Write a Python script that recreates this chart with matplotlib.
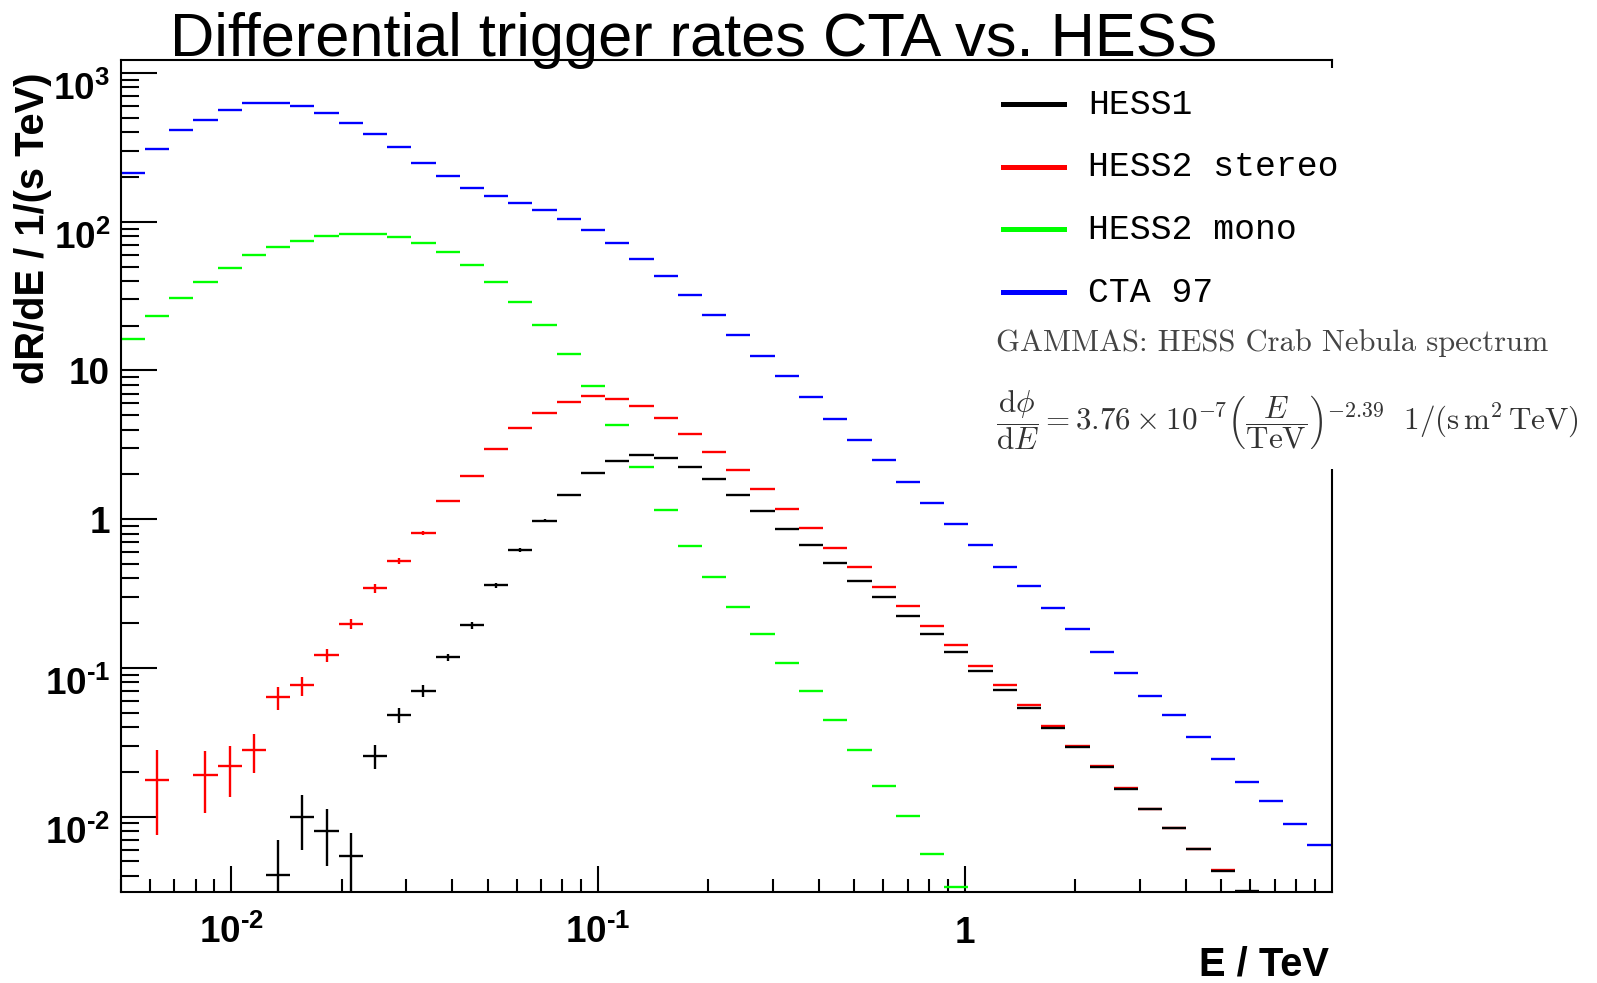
import numpy as np
import matplotlib
matplotlib.use("Agg")
import matplotlib.pyplot as plt
from matplotlib.lines import Line2D
from matplotlib.patches import Rectangle
from matplotlib.ticker import LogLocator, NullFormatter
from matplotlib.transforms import blended_transform_factory, ScaledTranslation

nan = np.nan

# ---------------- data ----------------
E_MIN, E_MAX, N_BINS = 0.005, 10.0, 50

series_labels = ["HESS1", "HESS2 stereo", "HESS2 mono", "CTA 97"]
series_colors = ["#000000", "#ff0000", "#00ff00", "#0000ff"]

hess1 = [nan, nan, nan, nan, nan, nan, 0.00406, 0.00993, 0.00795, 0.00542,
         0.0255, 0.0482, 0.0702, 0.1177, 0.193, 0.359, 0.620, 0.979, 1.462, 2.03,
         2.48, 2.70, 2.59, 2.25, 1.852, 1.465, 1.128, 0.861, 0.673, 0.509,
         0.385, 0.298, 0.222, 0.170, 0.1277, 0.0957, 0.0713, 0.0537, 0.0395, 0.0292,
         0.0215, 0.0154, 0.01128, 0.00837, 0.00603, 0.00430, 0.00318, nan, nan, nan]
hess1_err = [0, 0, 0, 0, 0, 0, 0.0029, 0.0040, 0.0033, 0.0024,
             0.0046, 0.0056, 0.0060, 0.0070, 0.011, 0.015, 0.019, 0.02, 0, 0,
             0, 0, 0, 0, 0, 0, 0, 0, 0, 0,
             0, 0, 0, 0, 0, 0, 0, 0, 0, 0,
             0, 0, 0, 0, 0, 0, 0, 0, 0, 0]

hess2_stereo = [nan, 0.0177, nan, 0.0192, 0.0218, 0.0279, 0.0634, 0.0762, 0.1213, 0.198,
                0.343, 0.525, 0.810, 1.318, 1.95, 2.95, 4.10, 5.15, 6.18, 6.71,
                6.45, 5.76, 4.76, 3.73, 2.83, 2.13, 1.585, 1.164, 0.875, 0.637,
                0.474, 0.351, 0.259, 0.192, 0.1417, 0.1036, 0.0769, 0.0560, 0.0408, 0.0299,
                0.0219, 0.0157, 0.01128, 0.00837, 0.00603, 0.00437, nan, nan, nan, nan]
hess2_stereo_err = [0, 0.0102, 0, 0.0086, 0.0082, 0.0082, 0.011, 0.011, 0.012, 0.015,
                    0.022, 0.025, 0.025, 0, 0, 0, 0, 0, 0, 0,
                    0, 0, 0, 0, 0, 0, 0, 0, 0, 0,
                    0, 0, 0, 0, 0, 0, 0, 0, 0, 0,
                    0, 0, 0, 0, 0, 0, 0, 0, 0, 0]

hess2_mono = [16.3, 23.1, 30.8, 39.5, 48.6, 60.0, 67.6, 74.2, 79.8, 82.3,
              82.3, 78.6, 72.2, 62.6, 50.9, 39.1, 29.0, 20.1, 13.0, 7.89,
              4.29, 2.26, 1.16, 0.659, 0.406, 0.258, 0.170, 0.108, 0.0695, 0.0446,
              0.0281, 0.0161, 0.0101, 0.00557, 0.00337, nan, nan, nan, nan, nan,
              nan, nan, nan, nan, nan, nan, nan, nan, nan, nan]
hess2_mono_err = [0.0] * 50

cta97 = [214, 307, 412, 481, 563, 625, 631, 603, 541, 463,
         389, 316, 250, 202, 169, 148, 133, 120, 105, 88,
         72.3, 56.1, 42.9, 32.0, 23.5, 17.2, 12.5, 9.13, 6.62, 4.71,
         3.39, 2.51, 1.77, 1.28, 0.922, 0.673, 0.478, 0.355, 0.254, 0.182,
         0.128, 0.0922, 0.0643, 0.0486, 0.0342, 0.0246, 0.0171, 0.0127, 0.0089, 0.00643]
cta97_err = [0.0] * 50

x_ticks = [0.01, 0.1, 1.0]
x_tick_labels = [r"10$^{\text{-}2}$", r"10$^{\text{-}1}$", "1"]
y_ticks = [0.01, 0.1, 1.0, 10.0, 100.0, 1000.0]
y_tick_labels = [r"10$^{\text{-}2}$", r"10$^{\text{-}1}$", "1", "10", r"10$^{2}$", r"10$^{3}$"]

title = "Differential trigger rates CTA vs. HESS"
xlabel = "E / TeV"
ylabel = "dR/dE / 1/(s TeV)"
note = "GAMMAS: HESS Crab Nebula spectrum"
formula = (r"$\dfrac{\mathrm{d}\phi}{\mathrm{d}\mathit{E}} = 3.76 \times 10^{-7}"
           r"\left(\dfrac{\mathit{E}}{\mathrm{TeV}}\right)^{-2.39}\ \ 1/(\mathrm{s\,m^2\,TeV})$")

# ---------------- style ----------------
plt.rcParams["font.family"] = ["Liberation Sans", "DejaVu Sans"]
plt.rcParams["mathtext.fontset"] = "custom"
plt.rcParams["mathtext.rm"] = "Liberation Sans:bold"
plt.rcParams["mathtext.bf"] = "Liberation Sans:bold"
plt.rcParams["mathtext.it"] = "Liberation Sans:bold:italic"
plt.rcParams["mathtext.default"] = "rm"

W, H = 1597, 983
PX = 1 / 100.0  # one pixel in inches
fig = plt.figure(figsize=(W / 100, H / 100), dpi=100)
ax = fig.add_axes([120.7 / W, 1 - 892.3 / H, (1331.7 - 120.7) / W, (892.3 - 60) / H])

edges = np.logspace(np.log10(E_MIN), np.log10(E_MAX), N_BINS + 1)
centers = np.sqrt(edges[:-1] * edges[1:])
xerr = [centers - edges[:-1], edges[1:] - centers]

draw_order = [
    (hess2_stereo, hess2_stereo_err, series_colors[1]),
    (hess1, hess1_err, series_colors[0]),
    (hess2_mono, hess2_mono_err, series_colors[2]),
    (cta97, cta97_err, series_colors[3]),
]
for vals, errs, col in draw_order:
    y = np.array(vals, dtype=float)
    e = np.array(errs, dtype=float)
    ax.errorbar(centers, y, xerr=xerr, yerr=e, fmt="none", ecolor=col,
                elinewidth=1.7, capsize=0)

ax.set_xscale("log")
ax.set_yscale("log")
ax.set_xlim(E_MIN, E_MAX)
ax.set_ylim(0.0031, 1223)

ax.set_xticks(x_ticks, [""] * len(x_ticks))
ax.set_yticks(y_ticks, [""] * len(y_ticks))
ax.xaxis.set_minor_locator(LogLocator(base=10, subs=np.arange(2, 10), numticks=30))
ax.yaxis.set_minor_locator(LogLocator(base=10, subs=np.arange(2, 10), numticks=30))
ax.xaxis.set_minor_formatter(NullFormatter())
ax.yaxis.set_minor_formatter(NullFormatter())

ax.tick_params(which="both", direction="in", top=False, right=False, width=1.5)
ax.tick_params(axis="y", which="major", length=26)
ax.tick_params(axis="y", which="minor", length=12.7)
ax.tick_params(axis="x", which="major", length=18.5)
ax.tick_params(axis="x", which="minor", length=9.4)
for sp in ax.spines.values():
    sp.set_linewidth(1.5)

# tick labels placed ROOT-style
TICK_FS = 26.5
xt = blended_transform_factory(ax.transData, ax.transAxes)
for xv, lab in zip(x_ticks, x_tick_labels):
    ax.text(xv, 0, lab, transform=xt + ScaledTranslation(0, -50.7 * PX, fig.dpi_scale_trans),
            ha="center", va="baseline", fontsize=TICK_FS, fontweight="bold", clip_on=False)
yt = blended_transform_factory(ax.transAxes, ax.transData)
for yv, lab in zip(y_ticks, y_tick_labels):
    drop = 27.0 if "$" in lab else 14.0
    ax.text(0, yv, lab, transform=yt + ScaledTranslation(-10.7 * PX, -drop * PX, fig.dpi_scale_trans),
            ha="right", va="baseline", fontsize=TICK_FS, fontweight="bold", clip_on=False)

# titles
fig.text(170 / W, 1 - 56 / H, title, fontsize=44.2, ha="left", va="baseline")
fig.text(33 / W, 1 - 72 / H, ylabel, rotation=90, ha="center", va="top",
         fontsize=28.7, fontweight="bold")
fig.text(1329 / W, 1 - 976 / H, xlabel, ha="right", va="baseline",
         fontsize=28.7, fontweight="bold")

# legend box (white, no border) covering the frame
fig.add_artist(Rectangle((975 / W, 1 - 469 / H), 1 - 975 / W, (469 - 68) / H,
                         transform=fig.transFigure, facecolor="white",
                         edgecolor="none", zorder=1))
for i, (lab, col) in enumerate(zip(series_labels, series_colors)):
    yy = 1 - (104 + 62.7 * i) / H
    fig.add_artist(Line2D([1003 / W, 1064 / W], [yy, yy], transform=fig.transFigure,
                          color=col, lw=3.6, zorder=3))
    fig.text(1088 / W, yy, lab, family="Liberation Mono", fontsize=25,
             ha="left", va="center", zorder=3)

fig.text(996 / W, 1 - 343 / H, note, family="cmr10", fontsize=22.0,
         color="#444444", ha="left", va="center", zorder=3)
fig.text(996 / W, 1 - 420 / H, formula, math_fontfamily="cm", fontsize=22.4,
         color="#333333", ha="left", va="center", zorder=3)

fig.savefig("out.png", dpi=100)
